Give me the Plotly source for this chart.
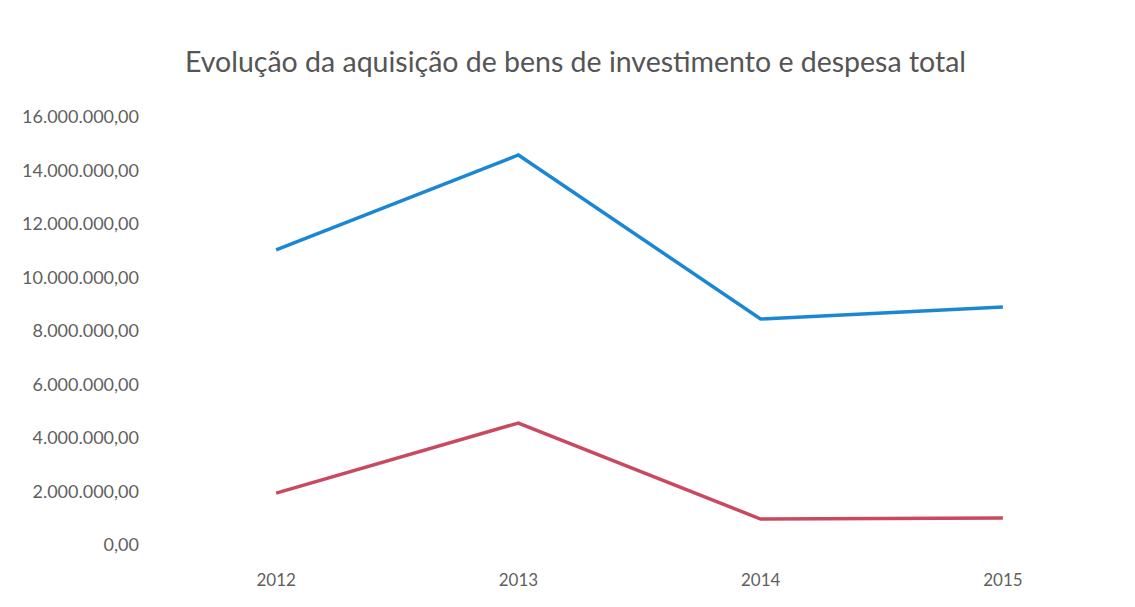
import plotly.graph_objects as go

years = ["2012", "2013", "2014", "2015"]
despesa_total = [11030000, 14580000, 8450000, 8900000]
aquisicao_bens = [1940000, 4560000, 970000, 1010000]
tick_vals = [0, 2000000, 4000000, 6000000, 8000000, 10000000, 12000000, 14000000, 16000000]
tick_text = ["0,00", "2.000.000,00", "4.000.000,00", "6.000.000,00", "8.000.000,00",
             "10.000.000,00", "12.000.000,00", "14.000.000,00", "16.000.000,00"]

FONT = "Lato"

fig = go.Figure()
fig.add_trace(go.Scatter(x=years, y=despesa_total, mode="lines", name="Despesa total",
                         line=dict(color="#1b87d4", width=3.5)))
fig.add_trace(go.Scatter(x=years, y=aquisicao_bens, mode="lines",
                         name="Aquisição de bens de investimento",
                         line=dict(color="#c94a60", width=3.5)))

fig.update_layout(
    width=1135, height=607,
    paper_bgcolor="white", plot_bgcolor="white",
    showlegend=False,
    margin=dict(l=147, r=19, t=109, b=70),
    title=dict(text="Evolução da aquisição de bens de investimento e despesa total",
               x=0.5, xanchor="center", y=0.911, yanchor="middle",
               font=dict(family=FONT, size=28.5, color="#555555")),
    font=dict(family=FONT, color="#5f5f5f"),
)
fig.update_xaxes(type="category", showgrid=False, zeroline=False, showline=False,
                 ticks="", ticklabelstandoff=23, tickfont=dict(size=17, color="#5f5f5f"),
                 range=[-0.5, 3.5])
fig.update_yaxes(range=[0, 16000000], tickvals=tick_vals, ticktext=tick_text,
                 showgrid=False, zeroline=False, showline=False, ticks="",
                 ticklabelstandoff=15, tickfont=dict(size=18, color="#5f5f5f"))

fig.write_html("out.html")
